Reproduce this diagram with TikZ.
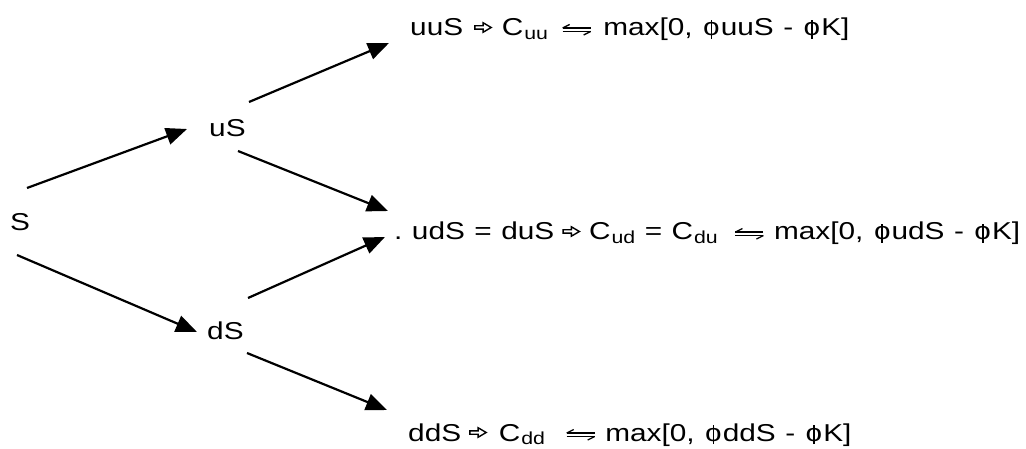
\documentclass[tikz,border=0pt]{standalone}
\usepackage{fontspec}
\setmainfont{Liberation Sans}[FakeStretch=1.22, WordSpace=1.15]
\usetikzlibrary{arrows.meta}
% outlined implication arrow
\newcommand{\impl}{\tikz[x=1bp,y=1bp,baseline=0pt]{\draw[line width=1.4bp, line join=miter]
  (0.7,6.8) -- (9,6.8) -- (9,3.8) -- (17,8.5) -- (9,13.2) -- (9,10.2) -- (0.7,10.2) -- cycle;}}
% left harpoon over right harpoon
\newcommand{\harp}{\tikz[x=1bp,y=1bp,baseline=0pt]{\begin{scope}[line width=1.3bp]
  \draw (0,8) -- (28,8); \draw (0,8) -- (7,11.5);
  \draw (0,4.5) -- (28,4.5); \draw (28,4.5) -- (21,1);\end{scope}}}
% phi: round bowl crossed by an upright stroke
\newcommand{\phisym}{\hspace{1bp}\ooalign{o\cr\hidewidth\rule[-3bp]{1.8bp}{19bp}\hidewidth\cr}\hspace{1bp}}
% lowered, smaller index after C
\newcommand{\lowidx}[1]{\raisebox{-3.5bp}{\fontsize{17.5}{20}\selectfont #1}}
\begin{document}
\begin{tikzpicture}[x=1bp,y=-1bp,
  lbl/.style={inner sep=0pt, anchor=base west, font=\fontsize{24.5}{28}\selectfont},
  link/.style={line width=2.2bp, -{Triangle[length=21bp,width=17bp]}}]
\useasboundingbox (0,0) rectangle (1026,449);

% states of the two-step tree
\node[lbl] (S)  at (10,231)  {S};
\node[lbl] (uS) at (209,137) {uS};
\node[lbl] (dS) at (207,340) {dS};

% terminal values and option payoffs
\node[lbl] (uu) at (410,36)
  {uuS\hspace{11bp}\impl\hspace{10bp}C\hspace{1bp}\lowidx{uu}\hspace{14bp}\harp\hspace{12bp}max[0, \phisym uuS - \phisym K]};
\node[lbl] (ud) at (394,240)
  {.\ udS = duS\hspace{8bp}\impl\hspace{9bp}C\hspace{1bp}\lowidx{ud} = C\hspace{1bp}\lowidx{du}\hspace{17bp}\harp\hspace{10bp}max[0, \phisym udS - \phisym K]};
\node[lbl] (dd) at (408,441)
  {ddS\hspace{8bp}\impl\hspace{12bp}C\hspace{1bp}\lowidx{dd}\hspace{21bp}\harp\hspace{10bp}max[0, \phisym ddS - \phisym K]};

% branches
\draw[link] ([shift={(17,-43)}]S.base west)  -- ([shift={(-22,-8)}]uS.base west);
\draw[link] ([shift={(7,24)}]S.base west)    -- ([shift={(-10,-8)}]dS.base west);
\draw[link] ([shift={(40,-35)}]uS.base west) -- ([shift={(-21,7)}]uu.base west);
\draw[link] ([shift={(29,14)}]uS.base west)  -- ([shift={(-6,-29)}]ud.base west);
\draw[link] ([shift={(41,-42)}]dS.base west) -- ([shift={(-9,-3)}]ud.base west);
\draw[link] ([shift={(40,13)}]dS.base west)  -- ([shift={(-21,-31)}]dd.base west);
\end{tikzpicture}
\end{document}
